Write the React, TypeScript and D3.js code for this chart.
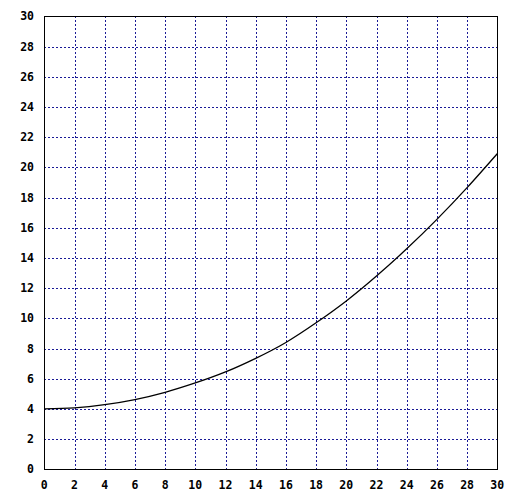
import { useEffect, useRef } from 'react';
import * as d3 from 'd3';

// values
const xValues = [0, 2, 4, 6, 8, 10, 12, 14, 16, 18, 20, 22, 24, 26, 28, 30];
const yValues = [4.0, 4.07, 4.28, 4.62, 5.1, 5.72, 6.45, 7.35, 8.4, 9.7, 11.15, 12.8, 14.6, 16.55, 18.65, 20.9];
const xTicks = d3.range(0, 31, 2);
const yTicks = d3.range(0, 31, 2);

export default function App() {
  const svgRef = useRef<SVGSVGElement>(null);

  useEffect(() => {
    if (!svgRef.current) return;
    const width = 522;
    const height = 500;
    const left = 44.3, right = 497.3, top = 16.3, bottom = 469.3;

    const svg = d3.select(svgRef.current)
      .attr('width', width)
      .attr('height', height)
      .attr('viewBox', `0 0 ${width} ${height}`);
    svg.selectAll('*').remove();

    svg.append('rect').attr('width', width).attr('height', height).attr('fill', '#fff');

    const x = d3.scaleLinear().domain([0, 30]).range([left, right]);
    const y = d3.scaleLinear().domain([0, 30]).range([bottom, top]);

    const grid = svg.append('g')
      .attr('stroke', '#1a1a96')
      .attr('stroke-width', 1)
      .attr('shape-rendering', 'crispEdges')
      .attr('stroke-dasharray', '2 2');

    grid.selectAll('.gx')
      .data(xTicks.slice(1, -1))
      .enter().append('line')
      .attr('x1', d => Math.round(x(d)) + 0.5)
      .attr('x2', d => Math.round(x(d)) + 0.5)
      .attr('y1', Math.round(top))
      .attr('y2', Math.round(bottom));

    grid.selectAll('.gy')
      .data(yTicks.slice(1, -1))
      .enter().append('line')
      .attr('y1', d => Math.round(y(d)) + 0.5)
      .attr('y2', d => Math.round(y(d)) + 0.5)
      .attr('x1', Math.round(left))
      .attr('x2', Math.round(right));

    // border
    svg.append('rect')
      .attr('x', Math.round(left) + 0.5)
      .attr('y', Math.round(top) + 0.5)
      .attr('width', Math.round(right) - Math.round(left))
      .attr('height', Math.round(bottom) - Math.round(top))
      .attr('fill', 'none')
      .attr('stroke', '#000')
      .attr('stroke-width', 1);

    const pts: [number, number][] = xValues.map((v, i) => [v, yValues[i]]);
    const line = d3.line<[number, number]>()
      .x(d => x(d[0]))
      .y(d => y(d[1]))
      .curve(d3.curveNatural);

    svg.append('path')
      .attr('d', line(pts))
      .attr('fill', 'none')
      .attr('stroke', '#000')
      .attr('stroke-width', 1.3);

    const font = "'DejaVu Sans Mono', monospace";

    svg.append('g').selectAll('text')
      .data(yTicks)
      .enter().append('text')
      .text(d => d)
      .attr('x', 34)
      .attr('y', d => y(d) + 4)
      .attr('text-anchor', 'end')
      .attr('font-family', font)
      .attr('font-weight', 'bold')
      .attr('font-size', '11.5px')
      .attr('fill', '#000');

    svg.append('g').selectAll('text')
      .data(xTicks)
      .enter().append('text')
      .text(d => d)
      .attr('x', d => x(d))
      .attr('y', 489)
      .attr('text-anchor', 'middle')
      .attr('font-family', font)
      .attr('font-weight', 'bold')
      .attr('font-size', '11.5px')
      .attr('fill', '#000');
  }, []);

  return (
    <svg ref={svgRef} style={{ position: 'absolute', left: 0, top: 0, display: 'block' }} />
  );
}
